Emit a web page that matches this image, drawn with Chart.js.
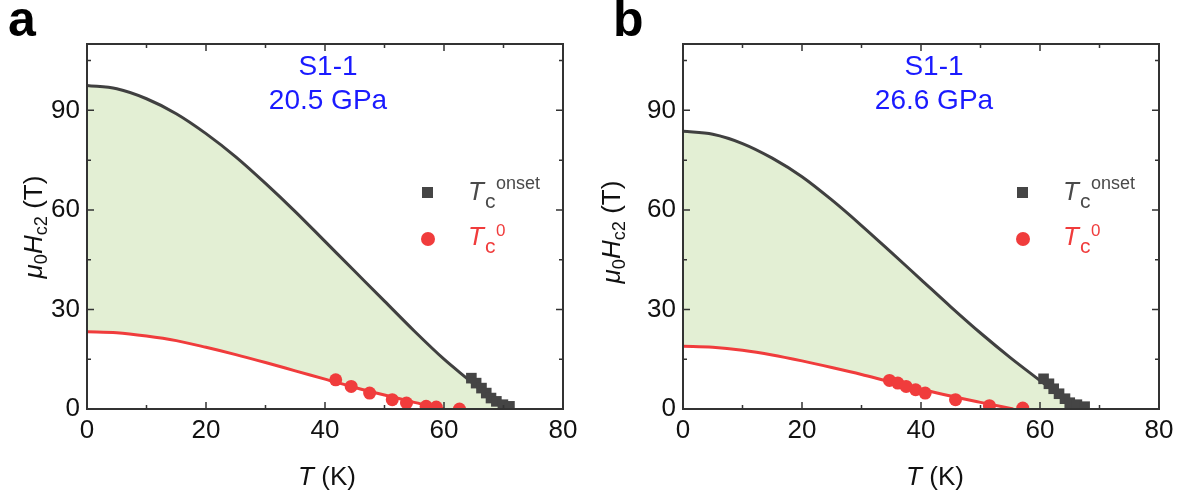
<!DOCTYPE html>
<html><head><meta charset="utf-8">
<script src="https://cdn.jsdelivr.net/npm/chart.js@4.4.0/dist/chart.umd.min.js"></script>
<style>
html,body{margin:0;padding:0;background:#fff;}
#wrap{position:relative;width:1188px;height:499px;overflow:hidden;font-family:"Liberation Sans",Arial,sans-serif;}
canvas{position:absolute;top:0;}
.t{position:absolute;white-space:nowrap;line-height:1;}
.t sub{font-size:0.7em;vertical-align:-0.25em;line-height:0;}
</style></head><body>
<div id="wrap">
<canvas id="ca" width="594" height="499" style="left:0"></canvas>
<canvas id="cb" width="594" height="499" style="left:594px"></canvas>
</div>
<script>
// ---- axes ----
const xTicks = [0, 20, 40, 60, 80];
const xMinorTicks = [10, 30, 50, 70];
const yTicks = [0, 30, 60, 90];
const yMinorTicks = [15, 45, 75, 105];

// ---- panel a (20.5 GPa) ----
const fitOnsetT_a = [0, 5, 10, 15, 20, 25, 30, 35, 40, 45, 50, 55, 60, 64, 67, 70];
const fitOnsetH_a = [97.5, 96.5, 93.5, 89, 83, 76, 68, 59.5, 50.5, 41.5, 32.5, 23.5, 15, 9, 4.5, 0];
const fitZeroT_a = [0, 5, 10, 15, 20, 25, 30, 35, 40, 45, 50, 55, 60];
const fitZeroH_a = [23.3, 23.0, 22.0, 20.6, 18.6, 16.4, 14.0, 11.5, 9.0, 6.5, 4.2, 2.0, 0];
const onsetT_a = [64.6, 65.4, 66.3, 67.1, 67.9, 68.8, 69.9, 71.0];
const onsetH_a = [9.3, 7.8, 6.3, 4.8, 3.3, 2.3, 1.3, 0.8];
const zeroT_a = [41.8, 44.4, 47.5, 51.3, 53.7, 57.0, 58.7, 62.6];
const zeroH_a = [8.8, 6.8, 4.8, 2.8, 1.8, 0.8, 0.6, 0.0];

// ---- panel b (26.6 GPa) ----
const fitOnsetT_b = [0, 5, 10, 15, 20, 25, 30, 35, 40, 45, 50, 55, 60, 63, 66];
const fitOnsetH_b = [83.7, 82.8, 80, 75.6, 70, 63, 55.3, 47.2, 39, 30.8, 22.9, 15.5, 8.6, 4.5, 0];
const fitZeroT_b = [0, 5, 10, 15, 20, 25, 30, 35, 40, 45, 50, 55.5];
const fitZeroH_b = [18.9, 18.6, 17.7, 16.3, 14.5, 12.5, 10.4, 8.1, 6.0, 3.9, 2.0, 0];
const onsetT_b = [60.6, 61.5, 62.3, 63.2, 64.2, 65.0, 66.2, 67.5];
const onsetH_b = [9.1, 7.6, 6.1, 4.6, 3.1, 1.9, 1.3, 0.7];
const zeroT_b = [34.7, 36.1, 37.5, 39.1, 40.7, 45.8, 51.5, 57.1];
const zeroH_b = [8.6, 7.8, 6.8, 5.8, 4.8, 2.8, 1.0, 0.3];

const FONT = "'Liberation Sans', Arial, sans-serif";
const RED = '#f03c3c', GRAY = '#454545', GREEN = '#e3efd4';

const pts = (xs, ys) => xs.map((v, i) => ({x: v, y: ys[i]}));

const framePlugin = {
  id: 'frame',
  afterDatasetsDraw(chart) {
    const {ctx, chartArea: a, scales: {x, y}} = chart;
    ctx.save();
    ctx.strokeStyle = '#333';
    ctx.lineWidth = 2;
    ctx.strokeRect(a.left, a.top, a.right - a.left, a.bottom - a.top);
    ctx.lineWidth = 1.5;
    ctx.beginPath();
    const xt = (v, len) => { const p = x.getPixelForValue(v);
      ctx.moveTo(p, a.bottom); ctx.lineTo(p, a.bottom - len);
      ctx.moveTo(p, a.top); ctx.lineTo(p, a.top + len); };
    const yt = (v, len) => { const p = y.getPixelForValue(v);
      ctx.moveTo(a.left, p); ctx.lineTo(a.left + len, p);
      ctx.moveTo(a.right, p); ctx.lineTo(a.right - len, p); };
    xTicks.forEach(v => xt(v, 7)); xMinorTicks.forEach(v => xt(v, 4));
    yTicks.forEach(v => yt(v, 7)); yMinorTicks.forEach(v => yt(v, 4));
    ctx.stroke();
    ctx.restore();
  }
};

function makeChart(id, d, yWidth, rightPad) {
  const base = pts(d.fzT, d.fzH).concat([{x: d.foT[d.foT.length - 1], y: 0}]);
  new Chart(document.getElementById(id), {
    type: 'line',
    data: {
      datasets: [
        {data: pts(d.zT, d.zH), showLine: false, pointStyle: 'circle', pointRadius: 6.5,
         pointBackgroundColor: RED, pointBorderWidth: 0, order: 0, clip: 0},
        {data: pts(d.oT, d.oH), showLine: false, pointStyle: 'rect', pointRadius: 7.5,
         pointBackgroundColor: GRAY, pointBorderWidth: 0, order: 0, clip: 0},
        {data: pts(d.fzT, d.fzH), borderColor: RED, borderWidth: 3, pointRadius: 0,
         fill: false, cubicInterpolationMode: 'monotone', order: 1, clip: 0},
        {data: pts(d.foT, d.foH), borderColor: '#404040', borderWidth: 3, pointRadius: 0,
         fill: {target: 4}, backgroundColor: GREEN, cubicInterpolationMode: 'monotone', order: 2, clip: 0},
        {data: base, borderWidth: 0, borderColor: 'rgba(0,0,0,0)', pointRadius: 0, fill: false,
         cubicInterpolationMode: 'monotone', order: 3, clip: 0}
      ]
    },
    options: {
      responsive: false, animation: false, events: [],
      layout: {padding: {top: 44, right: rightPad, left: 0, bottom: 0}},
      plugins: {legend: {display: false}, tooltip: {enabled: false}},
      scales: {
        x: {type: 'linear', min: 0, max: 80,
            afterBuildTicks: s => { s.ticks = xTicks.map(v => ({value: v})); },
            afterFit: s => { s.height = 90; },
            grid: {display: false, drawTicks: false}, border: {display: false},
            ticks: {font: {family: FONT, size: 26}, color: '#111', padding: 6, maxRotation: 0, autoSkip: false}},
        y: {type: 'linear', min: 0, max: 110,
            afterBuildTicks: s => { s.ticks = yTicks.map(v => ({value: v})); },
            afterFit: s => { s.width = yWidth; },
            grid: {display: false, drawTicks: false}, border: {display: false},
            ticks: {font: {family: FONT, size: 26}, color: '#111', padding: 7, autoSkip: false}}
      }
    },
    plugins: [framePlugin]
  });
}

makeChart('ca', {foT: fitOnsetT_a, foH: fitOnsetH_a, fzT: fitZeroT_a, fzH: fitZeroH_a,
  oT: onsetT_a, oH: onsetH_a, zT: zeroT_a, zH: zeroH_a}, 87, 31);
makeChart('cb', {foT: fitOnsetT_b, foH: fitOnsetH_b, fzT: fitZeroT_b, fzH: fitZeroH_b,
  oT: onsetT_b, oH: onsetH_b, zT: zeroT_b, zH: zeroH_b}, 89, 29);

// ---- text overlays ----
const wrap = document.getElementById('wrap');
function txt(html, x, baseline, size, o = {}) {
  const d = document.createElement('div');
  d.className = 't';
  d.innerHTML = html;
  d.style.fontSize = size + 'px';
  d.style.left = x + 'px';
  d.style.top = (baseline - 0.8465 * size) + 'px';
  if (o.color) d.style.color = o.color;
  if (o.bold) d.style.fontWeight = 'bold';
  if (o.italic) d.style.fontStyle = 'italic';
  if (o.center) d.style.transform = 'translateX(-50%)';
  wrap.appendChild(d);
  return d;
}
function rotTitle(html, cx, cy, size) {
  const d = document.createElement('div');
  d.className = 't';
  d.innerHTML = html;
  d.style.fontSize = size + 'px';
  d.style.left = cx + 'px';
  d.style.top = cy + 'px';
  d.style.transform = 'translate(-50%,-50%) rotate(-90deg)';
  d.style.color = '#111';
  wrap.appendChild(d);
}
function marker(shape, cx, cy, s, color) {
  const d = document.createElement('div');
  d.style.position = 'absolute';
  d.style.left = (cx - s / 2) + 'px';
  d.style.top = (cy - s / 2) + 'px';
  d.style.width = s + 'px';
  d.style.height = s + 'px';
  d.style.background = color;
  if (shape === 'circle') d.style.borderRadius = '50%';
  wrap.appendChild(d);
}

const panels = [
  {off: 0, letter: 'a', gpa: '20.5 GPa', annX: 328, xTitle: 327, yTitleX: 33, yTitleY: 227},
  {off: 595, letter: 'b', gpa: '26.6 GPa', annX: 934, xTitle: 935, yTitleX: 611, yTitleY: 232}
];
panels.forEach(p => {
  txt(p.letter, (p.letter === 'a' ? 8 : 613), 36, 50, {bold: true, color: '#000'});
  txt('S1-1', p.annX, 76, 28, {center: true, color: '#1a1aff'});
  txt(p.gpa, p.annX, 110, 28, {center: true, color: '#1a1aff'});
  txt('<i>T</i> (K)', p.xTitle, 485, 26, {center: true, color: '#111'});
  rotTitle('<i>μ</i><sub>0</sub><i>H</i><sub>c2</sub> (T)', p.yTitleX, p.yTitleY, 26);
  // legend
  marker('rect', 427 + p.off, 192, 11, GRAY);
  marker('circle', 427.5 + p.off, 239, 14, RED);
  txt('T', 468 + p.off, 200, 26, {italic: true, color: '#4a4a4a'});
  txt('c', 485 + p.off, 208, 21, {color: '#4a4a4a'});
  txt('onset', 496 + p.off, 189, 18, {color: '#4a4a4a'});
  txt('T', 468 + p.off, 245, 26, {italic: true, color: RED});
  txt('c', 485 + p.off, 253, 21, {color: RED});
  txt('0', 496 + p.off, 236, 17, {color: RED});
});
</script>
</body></html>
